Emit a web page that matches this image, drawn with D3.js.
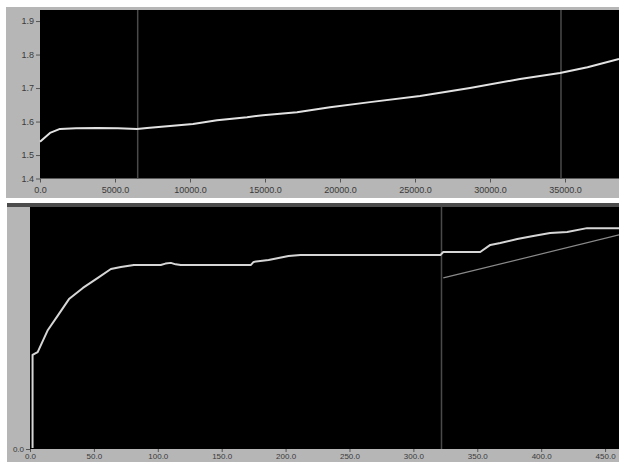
<!DOCTYPE html>
<html>
<head>
<meta charset="utf-8">
<script src="https://cdn.jsdelivr.net/npm/d3@7"></script>
<style>
  html, body { margin: 0; padding: 0; background: #ffffff; }
  svg { display: block; }
  .tick text { font-family: "Liberation Sans", Arial, sans-serif; fill: #3a3a3a; }
</style>
</head>
<body>
<svg id="chart" width="619" height="462"></svg>
<script>
// ---- Upper graph: slow drift over time ----
const topTime  = [0, 667, 1333, 2400, 3800, 5200, 6467, 7133, 8667, 10200, 11800, 13800, 14867, 17133, 19333, 22000, 25333, 28667, 32000, 34667, 36500, 38600];
const topValue = [1.540, 1.566, 1.578, 1.580, 1.581, 1.580, 1.578, 1.581, 1.587, 1.593, 1.604, 1.613, 1.619, 1.628, 1.643, 1.658, 1.676, 1.700, 1.727, 1.745, 1.762, 1.787];
const topXTicks = [0, 5000, 10000, 15000, 20000, 25000, 30000, 35000];
const topYTicks = [1.43, 1.5, 1.6, 1.7, 1.8, 1.9];
const topCursors = [6513, 34733];

// ---- Lower graph: step response ----
const lowTime  = [2, 2, 6, 14, 22, 30.5, 41.4, 53.1, 63.3, 71.1, 81.3, 102.3, 106, 110.2, 114, 118, 172.7, 175, 186.7, 202.3, 211.7, 321.1, 323.4, 352.3, 360.2, 368, 381.3, 393.8, 407, 420.3, 435.9, 460.9];
const lowValue = [0.04, 3.87, 3.99, 4.90, 5.51, 6.17, 6.63, 7.04, 7.41, 7.49, 7.57, 7.57, 7.63, 7.66, 7.60, 7.57, 7.57, 7.70, 7.78, 7.94, 7.98, 7.98, 8.11, 8.11, 8.40, 8.48, 8.64, 8.77, 8.89, 8.93, 9.09, 9.09];
const trendTime  = [323.4, 460.9];
const trendValue = [7.04, 8.81];
const lowXTicks = [0, 50, 100, 150, 200, 250, 300, 350, 400, 450];
const lowYTicks = [0];
const lowCursors = [322];

const svg = d3.select("#chart");
const fmt = d3.format(".1f");

// panel backgrounds
svg.append("rect").attr("x", 6).attr("y", 7).attr("width", 613).attr("height", 191).attr("fill", "#b6b6b6");
svg.append("rect").attr("x", 7).attr("y", 203).attr("width", 612).attr("height", 259).attr("fill", "#b6b6b6");
svg.append("rect").attr("x", 7).attr("y", 203).attr("width", 612).attr("height", 4).attr("fill", "#4c4c4c");

function drawGraph(cfg) {
  const x = d3.scaleLinear().domain(cfg.xDomain).range([cfg.left, cfg.right]);
  const y = d3.scaleLinear().domain(cfg.yDomain).range([cfg.bottom, cfg.top]);

  svg.append("rect")
    .attr("x", cfg.left).attr("y", cfg.top)
    .attr("width", cfg.right - cfg.left).attr("height", cfg.bottom - cfg.top)
    .attr("fill", "#000000");

  const gx = svg.append("g")
    .attr("transform", `translate(0,${cfg.bottom})`)
    .call(d3.axisBottom(x).tickValues(cfg.xTicks).tickFormat(fmt).tickSize(cfg.xTick).tickPadding(cfg.xPad));
  gx.select(".domain").remove();
  gx.selectAll(".tick line").attr("stroke", "#555");
  gx.selectAll(".tick text").attr("font-size", cfg.xFont);

  const gy = svg.append("g")
    .attr("transform", `translate(${cfg.left},0)`)
    .call(d3.axisLeft(y).tickValues(cfg.yTicks).tickFormat(fmt).tickSize(4).tickPadding(2));
  gy.select(".domain").remove();
  gy.selectAll(".tick line").attr("stroke", "#555");
  gy.selectAll(".tick text").attr("font-size", cfg.yFont);

  cfg.cursors.forEach(c => {
    svg.append("line")
      .attr("x1", x(c)).attr("x2", x(c))
      .attr("y1", cfg.top).attr("y2", cfg.bottom)
      .attr("stroke", "#4a4a4a").attr("stroke-width", 1.5);
  });

  const line = d3.line().x(d => x(d[0])).y(d => y(d[1]));
  cfg.series.forEach(s => {
    svg.append("path")
      .datum(d3.zip(s.xs, s.ys))
      .attr("d", line)
      .attr("fill", "none")
      .attr("stroke", s.color)
      .attr("stroke-width", s.width)
      .attr("stroke-linejoin", "round");
  });
}

drawGraph({
  left: 40, right: 619, top: 10, bottom: 178.5,
  xDomain: [0, 38600], yDomain: [1.43, 1.933],
  xTicks: topXTicks, yTicks: topYTicks, xTick: 4, xPad: 4, xFont: 9, yFont: 9,
  cursors: topCursors,
  series: [{ xs: topTime, ys: topValue, color: "#e2e2e2", width: 2 }]
});

drawGraph({
  left: 30, right: 619, top: 207, bottom: 449,
  xDomain: [0, 460.9], yDomain: [0, 9.96],
  xTicks: lowXTicks, yTicks: lowYTicks, xTick: 3, xPad: 1, xFont: 8, yFont: 8,
  cursors: lowCursors,
  series: [
    { xs: trendTime, ys: trendValue, color: "#8a8a8a", width: 1.2 },
    { xs: lowTime, ys: lowValue, color: "#d6d6d6", width: 2 }
  ]
});
</script>
</body>
</html>
